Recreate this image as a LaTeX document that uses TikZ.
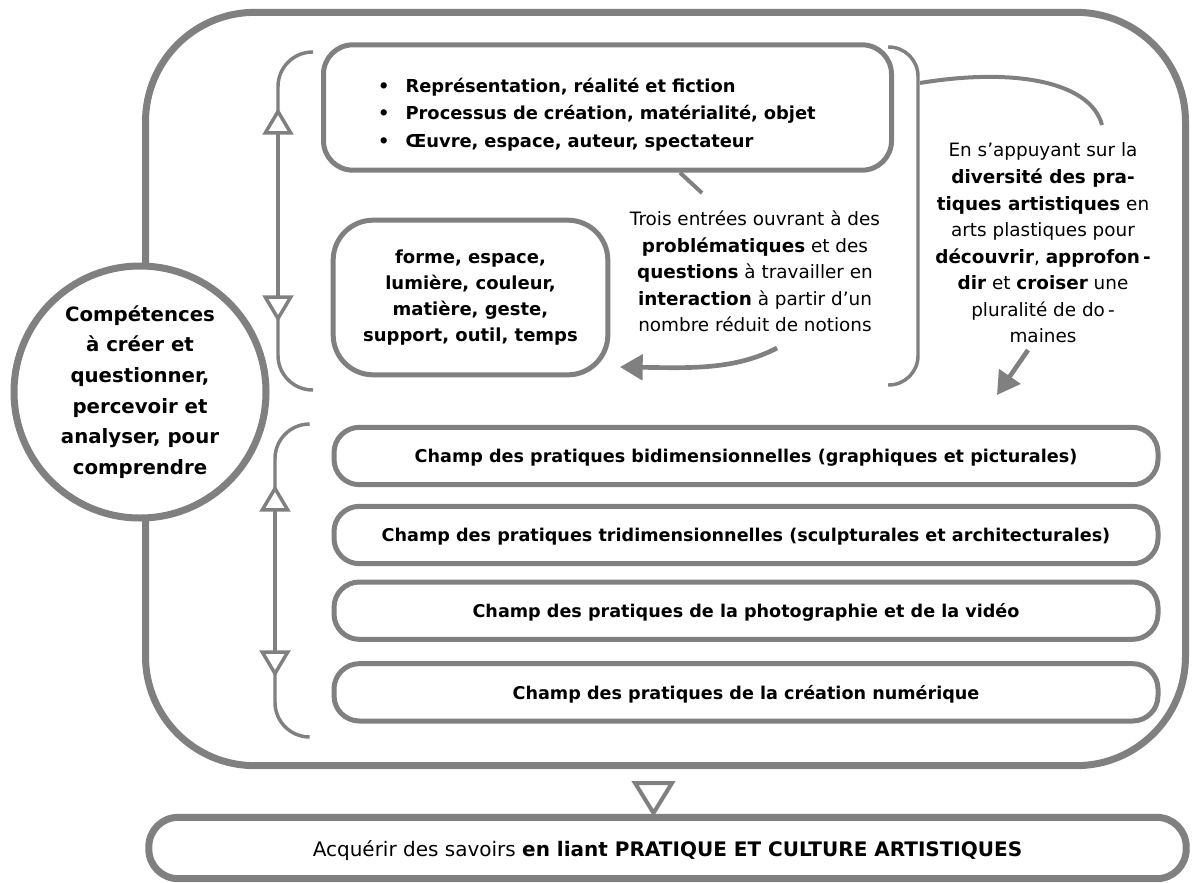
\documentclass[tikz,border=0pt]{standalone}
\usepackage{fontspec}
\setmainfont{DejaVu Sans}
\usepackage{tikz}
\usetikzlibrary{positioning,calc,arrows.meta}

\definecolor{gris}{HTML}{808080}

\begin{document}
\begin{tikzpicture}[x=0.75pt,y=-0.75pt,
    cadrebox/.style={rectangle, rounded corners=82pt, draw=gris, line width=5.25pt, minimum width=780pt, minimum height=565pt},
    rondnode/.style={circle, draw=gris, fill=white, line width=5.25pt, minimum size=189pt, inner sep=0pt, align=center, font=\bfseries\fontsize{14.8}{23}\selectfont},
    themebox/.style={rectangle, rounded corners=22pt, draw=gris, line width=3.75pt, minimum width=426pt, minimum height=94pt},
    themetext/.style={text width=344pt, align=left, font=\bfseries\fontsize{13.4}{20.6}\selectfont},
    notionbox/.style={rectangle, rounded corners=30pt, draw=gris, line width=3.75pt, minimum width=206pt, minimum height=116pt, align=center, font=\bfseries\fontsize{13.5}{19.5}\selectfont},
    champbox/.style={rectangle, rounded corners=19pt, draw=gris, line width=3.75pt, minimum width=618pt, minimum height=43pt, text depth=0pt, font=\bfseries\fontsize{13.2}{15}\selectfont},
    finbox/.style={rectangle, rounded corners=22pt, draw=gris, line width=5.25pt, minimum width=778pt, minimum height=46pt, text depth=0pt, font=\fontsize{15}{18}\selectfont},
    texte/.style={align=center, font=\fontsize{13.8}{19.9}\selectfont},
    crochet/.style={draw=gris, line width=2.6pt, rounded corners=26pt},
    doublefl/.style={draw=gris, line width=2.6pt, {Triangle[fill=white,length=20pt,width=23pt]}-{Triangle[fill=white,length=20pt,width=23pt]}},
    lien/.style={draw=gris, line width=3pt},
    fleche/.style={draw=gris, line width=3.5pt, -{Triangle[length=17pt,width=19pt]}}]

    \useasboundingbox (0,0) rectangle (1192,882);

    % grand cadre et cercle
    \node[cadrebox] (cadre) at (665.5,389) {};
    \node[rondnode] (competences) at (140,392) {Compétences\\ à créer et\\ questionner,\\ percevoir et\\ analyser, pour\\ comprendre};

    % entrees et notions
    \node[themebox] (themes) at (607.5,107.5) {};
    \node[themetext] (themeliste) at ($(themes)+(0,7)$) {\textbullet\hspace{12pt}Représentation, réalité et fiction\\ \textbullet\hspace{12pt}Processus de création, matérialité, objet\\ \textbullet\hspace{12pt}Œuvre, espace, auteur, spectateur};
    \node[notionbox] (notions) at (470.5,297.5) {forme, espace,\\ lumière, couleur,\\ matière, geste,\\ support, outil, temps};
    \node[texte] (pb) at (755,271.5) {Trois entrées ouvrant à des\\ \textbf{problématiques} et des\\ \textbf{questions} à travailler en\\ \textbf{interaction} à partir d’un\\ nombre réduit de notions};
    \node[texte] (diversite) at (1043,243) {En s’appuyant sur la\\ \textbf{diversité des pra-}\\ \textbf{tiques artistiques} en\\ arts plastiques pour\\ \textbf{découvrir}, \textbf{approfon\,-}\\ \textbf{dir} et \textbf{croiser} une\\ pluralité de do\,-\\ maines};

    % champs de pratiques
    \node[champbox] (champ1) at (746,456) {Champ des pratiques bidimensionnelles (graphiques et picturales)};
    \node[champbox] (champ2) [below=12.5pt of champ1] {Champ des pratiques tridimensionnelles (sculpturales et architecturales)};
    \node[champbox] (champ3) [below=10pt of champ2] {Champ des pratiques de la photographie et de la vidéo};
    \node[champbox] (champ4) [below=14.5pt of champ3] {Champ des pratiques de la création numérique};

    \node[finbox] (acquerir) at (667.5,848) {Acquérir des savoirs \textbf{en liant PRATIQUE ET CULTURE ARTISTIQUES}};

    % crochets
    \draw[crochet] (313,52) -| (278,390) -- (313,390);
    \draw[doublefl] (278,108) -- (278,322);
    \draw[crochet] (309,424) -| (275,737) -- (309,737);
    \draw[doublefl] (275,485) -- (275,677);
    \draw[crochet, rounded corners=22pt] (888,47) -| (918,385) -- (888,385);

    % liens
    \coordinate (pbhaut) at (702,193);
    \coordinate (pbbas) at (777,348);
    \coordinate (notionsfl) at (620,367);
    \coordinate (crD) at (920,83);
    \coordinate (divhaut) at (1102,125);
    \coordinate (divbas) at (1028,350);
    \coordinate (champfl) at (997,395);
    \draw[lien] ($(themes.south)+(72.5,0)$) -- (pbhaut);
    \draw[fleche] (pbbas) .. controls (735,370) and (690,368) .. (notionsfl);
    \draw[lien] (crD) .. controls (1010,68) and (1090,80) .. (divhaut);
    \draw[fleche] (divbas) -- (champfl);

    % triangle vers le bas
    \draw[draw=gris, line width=3pt] (635,783) -- (672,783) -- (653.5,813) -- cycle;

\end{tikzpicture}
\end{document}
